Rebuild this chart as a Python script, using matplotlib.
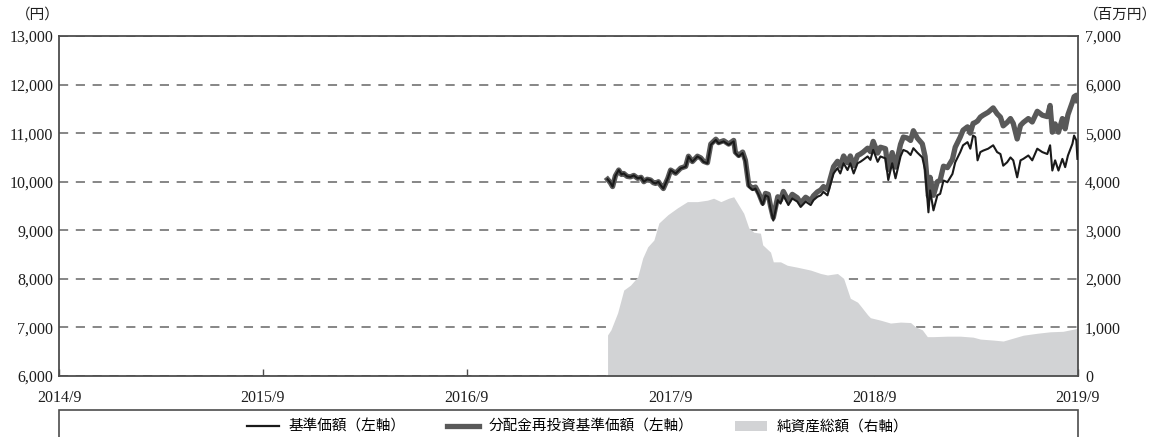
import matplotlib
matplotlib.use("Agg")
import matplotlib.pyplot as plt
import matplotlib.dates as mdates
import pandas as pd
from matplotlib.lines import Line2D
from matplotlib.patches import Patch, Rectangle

plt.rcParams["font.family"] = ["Liberation Serif", "Noto Sans CJK JP", "DejaVu Sans"]

# 基準価額 / 分配金再投資基準価額 (円)
nav_dates = [
    "2017-05-11", "2017-05-16", "2017-05-20", "2017-05-25", "2017-05-31", "2017-06-05",
    "2017-06-09", "2017-06-15", "2017-06-21", "2017-06-27", "2017-07-04", "2017-07-10",
    "2017-07-15", "2017-07-21", "2017-07-27", "2017-08-01", "2017-08-05", "2017-08-10",
    "2017-08-14", "2017-08-19", "2017-08-27", "2017-09-01", "2017-09-10", "2017-09-19",
    "2017-09-28", "2017-10-03", "2017-10-10", "2017-10-19", "2017-10-25", "2017-10-30",
    "2017-11-06", "2017-11-12", "2017-11-21", "2017-11-26", "2017-12-05", "2017-12-14",
    "2017-12-23", "2017-12-26", "2018-01-01", "2018-01-08", "2018-01-13", "2018-01-19",
    "2018-01-26", "2018-01-31", "2018-02-06", "2018-02-13", "2018-02-18", "2018-02-23",
    "2018-02-27", "2018-03-04", "2018-03-12", "2018-03-17", "2018-03-22", "2018-03-31",
    "2018-04-07", "2018-04-16", "2018-04-22", "2018-05-01", "2018-05-10", "2018-05-15",
    "2018-05-22", "2018-05-28", "2018-06-02", "2018-06-09", "2018-06-14", "2018-06-20",
    "2018-06-27", "2018-07-02", "2018-07-08", "2018-07-15", "2018-07-20", "2018-07-26",
    "2018-08-02", "2018-08-07", "2018-08-12", "2018-08-20", "2018-08-25", "2018-08-30",
    "2018-09-07", "2018-09-12", "2018-09-21", "2018-09-26", "2018-10-03", "2018-10-09",
    "2018-10-18", "2018-10-23", "2018-10-30", "2018-11-05", "2018-11-10", "2018-11-17",
    "2018-11-26", "2018-12-01", "2018-12-07", "2018-12-10", "2018-12-16", "2018-12-23",
    "2018-12-28", "2019-01-03", "2019-01-10", "2019-01-19", "2019-01-24", "2019-02-02",
    "2019-02-07", "2019-02-15", "2019-02-20", "2019-02-25", "2019-03-01", "2019-03-05",
    "2019-03-10", "2019-03-15", "2019-03-24", "2019-04-02", "2019-04-09", "2019-04-15",
    "2019-04-20", "2019-04-27", "2019-05-03", "2019-05-08", "2019-05-15", "2019-05-21",
    "2019-05-26", "2019-06-04", "2019-06-11", "2019-06-20", "2019-06-29", "2019-07-08",
    "2019-07-13", "2019-07-17", "2019-07-22", "2019-07-28", "2019-08-04", "2019-08-09",
    "2019-08-14", "2019-08-22", "2019-08-25", "2019-08-29", "2019-08-31",
]
nav = [
    10050, 9980, 9900, 10120, 10240, 10150,
    10170, 10110, 10100, 10130, 10070, 10090,
    10000, 10050, 10035, 9980, 9965, 10000,
    9930, 9860, 10070, 10240, 10170, 10275,
    10310, 10520, 10410, 10520, 10480, 10410,
    10380, 10760, 10860, 10790, 10830, 10760,
    10830, 10590, 10520, 10590, 10410, 9900,
    9830, 9860, 9720, 9520, 9720, 9690,
    9450, 9200, 9620, 9550, 9720, 9520,
    9655, 9590, 9480, 9590, 9520, 9620,
    9690, 9720, 9790, 9720, 9930, 10170,
    10280, 10170, 10380, 10240, 10380, 10170,
    10380, 10410, 10450, 10520, 10450, 10655,
    10410, 10520, 10480, 10035, 10380, 10070,
    10520, 10655, 10620, 10550, 10690, 10600,
    10500, 10240, 9370, 9820, 9410, 9720,
    9750, 10025, 9990, 10160, 10400, 10610,
    10750, 10815, 10680, 10950, 10920, 10440,
    10610, 10640, 10680, 10750, 10610, 10570,
    10330, 10400, 10500, 10440, 10090, 10440,
    10470, 10540, 10440, 10680, 10610, 10570,
    10750, 10230, 10440, 10230, 10470, 10300,
    10540, 10780, 10950, 10850, 10470,
]
nav_reinvested = [
    10050, 9980, 9900, 10120, 10240, 10150,
    10170, 10110, 10100, 10130, 10070, 10090,
    10000, 10050, 10035, 9980, 9965, 10000,
    9930, 9860, 10070, 10240, 10175, 10280,
    10315, 10525, 10415, 10525, 10490, 10420,
    10390, 10775, 10875, 10805, 10845, 10775,
    10850, 10610, 10540, 10610, 10440, 9930,
    9860, 9890, 9760, 9560, 9760, 9740,
    9500, 9260, 9690, 9620, 9800, 9600,
    9740, 9670, 9560, 9680, 9610, 9710,
    9790, 9830, 9900, 9840, 10060, 10310,
    10420, 10320, 10530, 10390, 10530, 10330,
    10540, 10570, 10610, 10690, 10620, 10830,
    10590, 10710, 10680, 10250, 10600, 10300,
    10770, 10920, 10900, 10850, 11050, 10900,
    10780, 10520, 9700, 10090, 9720, 10000,
    10030, 10320, 10290, 10460, 10710, 10920,
    11060, 11130, 11000, 11200, 11220, 11250,
    11330, 11370, 11430, 11520, 11400, 11330,
    11150, 11220, 11300, 11200, 10880, 11160,
    11220, 11300, 11230, 11450, 11370, 11340,
    11570, 11020, 11190, 11020, 11300, 11090,
    11380, 11640, 11750, 11780, 11670,
]

# 純資産総額 (百万円)
aum_dates = [
    "2017-05-11", "2017-05-17", "2017-05-29", "2017-06-09", "2017-06-21", "2017-07-04",
    "2017-07-13", "2017-07-22", "2017-08-02", "2017-08-11", "2017-08-27", "2017-09-13",
    "2017-10-01", "2017-10-19", "2017-11-06", "2017-11-17", "2017-11-30", "2017-12-14",
    "2017-12-23", "2018-01-01", "2018-01-10", "2018-01-19", "2018-01-28", "2018-02-09",
    "2018-02-13", "2018-02-27", "2018-03-04", "2018-03-17", "2018-03-29", "2018-04-16",
    "2018-05-10", "2018-05-28", "2018-06-09", "2018-06-27", "2018-07-08", "2018-07-20",
    "2018-08-02", "2018-08-07", "2018-08-20", "2018-08-25", "2018-09-12", "2018-09-30",
    "2018-10-18", "2018-11-05", "2018-11-14", "2018-11-26", "2018-12-05", "2018-12-16",
    "2019-01-10", "2019-02-02", "2019-02-25", "2019-03-10", "2019-04-02", "2019-04-20",
    "2019-05-08", "2019-05-26", "2019-06-20", "2019-07-13", "2019-08-05", "2019-08-31",
]
aum = [
    845, 950, 1300, 1770, 1870, 2040,
    2430, 2660, 2800, 3150, 3320, 3460,
    3590, 3590, 3620, 3660, 3590, 3660,
    3690, 3520, 3350, 3050, 2960, 2940,
    2700, 2550, 2350, 2350, 2280, 2240,
    2180, 2110, 2080, 2110, 2010, 1600,
    1520, 1450, 1260, 1200, 1150, 1090,
    1110, 1100, 1010, 950, 810, 810,
    820, 820, 800, 760, 740, 720,
    780, 840, 880, 910, 920, 980,
]

year_ticks = ["2014-09-01", "2015-09-01", "2016-09-01", "2017-09-01", "2018-09-01", "2019-09-01"]
year_labels = ["2014/9", "2015/9", "2016/9", "2017/9", "2018/9", "2019/9"]
left_ticks = [6000, 7000, 8000, 9000, 10000, 11000, 12000, 13000]
right_ticks = [0, 1000, 2000, 3000, 4000, 5000, 6000, 7000]

nav_dates = pd.to_datetime(nav_dates)
aum_dates = pd.to_datetime(aum_dates)

fig = plt.figure(figsize=(11.55, 4.37), dpi=100)
ax2 = fig.add_axes([59 / 1155, 1 - 376 / 437, 1019 / 1155, 340 / 437])
ax = ax2.twinx()
ax.yaxis.tick_left()
ax2.yaxis.tick_right()
ax.set_zorder(ax2.get_zorder() + 1)
ax.patch.set_visible(False)

spine_col = "#4d4d4d"
text_col = "#1e1e1e"

# area + grid on the right-hand axis (sits underneath)
ax2.set_ylim(0, 7000)
ax2.set_yticks(right_ticks)
ax2.set_yticklabels([f"{v:,}" for v in right_ticks])
ax2.set_axisbelow(True)
ax2.grid(axis="y", color="#666666", linestyle=(0, (6, 5)), linewidth=1.1)
ax2.fill_between(aum_dates, 0, aum, color="#d2d3d5", linewidth=0, zorder=2)
for s in ax2.spines.values():
    s.set_visible(False)

# price lines on the left-hand axis
ax.plot(nav_dates, nav_reinvested, color="#595959", linewidth=3.8, solid_joinstyle="round", zorder=3)
ax.plot(nav_dates, nav, color="#1a1a1a", linewidth=1.5, zorder=4)
ax.set_ylim(6000, 13000)
ax.set_yticks(left_ticks)
ax.set_yticklabels([f"{v:,}" for v in left_ticks])

xmin, xmax = pd.Timestamp("2014-09-01"), pd.Timestamp("2019-09-01")
ax.set_xlim(xmin, xmax)
ax2.set_xlim(xmin, xmax)
ax2.set_xticks(pd.to_datetime(year_ticks))
ax2.set_xticklabels(year_labels)

for s in ax.spines.values():
    s.set_color(spine_col)
    s.set_linewidth(1.3)

ax.tick_params(axis="y", length=0, pad=4, labelsize=11.5, labelcolor=text_col)
ax2.tick_params(axis="y", length=0, pad=5, labelsize=11.5, labelcolor=text_col)
ax2.tick_params(axis="x", direction="in", length=5, width=1, color=spine_col,
                pad=10, labelsize=11.5, labelcolor=text_col)

fig.text(38 / 1155, 1 - 15 / 437, "（円）", ha="center", va="center", fontsize=10.5,
         color=text_col, family=["Noto Sans CJK JP"])
fig.text(1120 / 1155, 1 - 15 / 437, "（百万円）", ha="center", va="center", fontsize=10.5,
         color=text_col, family=["Noto Sans CJK JP"])

# legend box runs off the bottom of the image
fig.patches.append(Rectangle((59 / 1155, -0.1), 1019 / 1155, 0.1 + 27 / 437,
                             transform=fig.transFigure, facecolor="none",
                             edgecolor=spine_col, linewidth=1.2))
handles = [
    Line2D([], [], color="#1a1a1a", linewidth=1.6),
    Line2D([], [], color="#595959", linewidth=3.8),
    Patch(facecolor="#d2d3d5", edgecolor="none"),
]
labels = ["基準価額（左軸）", "分配金再投資基準価額（左軸）", "純資産総額（右軸）"]
fig.legend(handles, labels, loc="center", bbox_to_anchor=(0.5, 1 - 427 / 437), ncol=3,
           frameon=False, handlelength=2.2, handletextpad=0.7, columnspacing=2.8,
           prop={"family": ["Noto Sans CJK JP"], "size": 10.5})

fig.savefig("out.png", dpi=100)
